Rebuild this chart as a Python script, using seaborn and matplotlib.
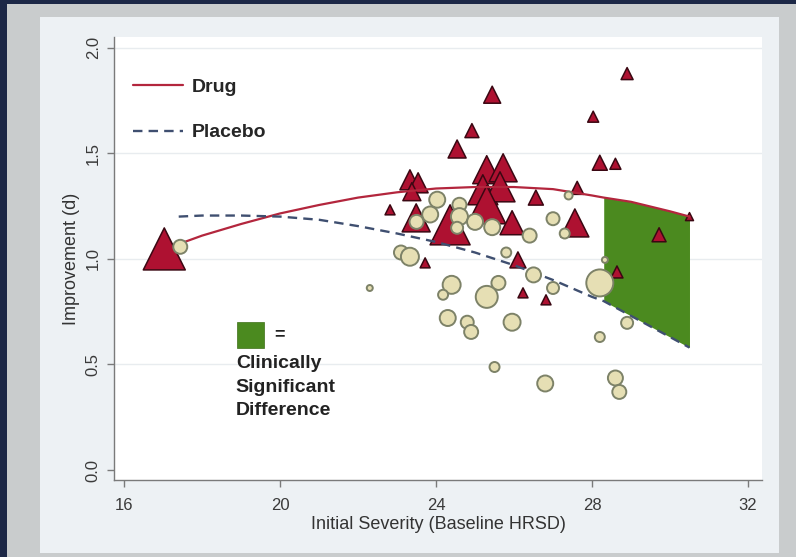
import matplotlib.pyplot as plt
import matplotlib.patches as mpatches
import pandas as pd
import seaborn as sns

# quadratic fit curves
fit_x = [17.4, 18, 19, 20, 21, 22, 23, 24, 25, 26, 27, 28, 28.3, 29, 30, 30.5]
drug_fit = [1.07, 1.11, 1.165, 1.215, 1.255, 1.29, 1.315, 1.333, 1.34, 1.34, 1.33, 1.30, 1.29, 1.27, 1.225, 1.20]
placebo_fit = [1.20, 1.205, 1.205, 1.20, 1.185, 1.155, 1.12, 1.08, 1.03, 0.97, 0.90, 0.82, 0.80, 0.73, 0.63, 0.58]
clin_sig_from = 28.3

# drug arms (triangles): baseline HRSD, improvement d, study weight
drug_x = [17.03, 28.9, 25.44, 28.03, 24.92, 24.54, 28.2, 28.6, 25.3, 25.72,
          25.2, 25.64, 25.3, 23.33, 23.54, 23.38, 27.62, 26.56, 22.82, 30.5,
          29.72, 27.56, 24.36, 25.95, 23.49, 23.72, 26.1, 28.64, 26.23, 26.82]
drug_y = [1.047, 1.877, 1.777, 1.673, 1.607, 1.52, 1.455, 1.45, 1.422, 1.431,
          1.327, 1.341, 1.256, 1.374, 1.36, 1.318, 1.336, 1.29, 1.232, 1.20,
          1.114, 1.17, 1.161, 1.171, 1.194, 0.981, 0.995, 0.938, 0.839, 0.806]
drug_w = [1764, 144, 289, 121, 196, 324, 225, 121, 784, 784,
          900, 900, 1444, 400, 400, 324, 169, 225, 100, 64,
          196, 784, 1600, 576, 784, 100, 256, 144, 100, 100]

# placebo arms (circles)
placebo_x = [17.44, 22.3, 24.03, 24.6, 23.85, 24.6, 23.5, 25.0, 25.44, 24.54,
             26.4, 27.0, 27.4, 27.3, 23.1, 23.33, 25.8, 26.5, 27.0, 28.2,
             28.33, 24.4, 24.18, 25.6, 25.3, 24.3, 24.8, 24.9, 25.95, 25.5,
             26.8, 28.9, 28.2, 28.6, 28.7]
placebo_y = [1.057, 0.862, 1.28, 1.256, 1.21, 1.20, 1.175, 1.175, 1.15, 1.147,
             1.11, 1.19, 1.30, 1.12, 1.03, 1.01, 1.03, 0.924, 0.862, 0.886,
             0.995, 0.877, 0.83, 0.886, 0.82, 0.72, 0.70, 0.654, 0.70, 0.488,
             0.41, 0.697, 0.63, 0.436, 0.37]
placebo_w = [196, 36, 256, 196, 256, 289, 196, 256, 256, 144,
             196, 169, 64, 100, 196, 324, 100, 225, 144, 729,
             36, 324, 100, 196, 484, 256, 169, 196, 289, 100,
             256, 144, 100, 225, 196]

drug = pd.DataFrame({"severity": drug_x, "improvement": drug_y, "weight": drug_w})
placebo = pd.DataFrame({"severity": placebo_x, "improvement": placebo_y, "weight": placebo_w})
fits = pd.DataFrame({"severity": fit_x, "drug": drug_fit, "placebo": placebo_fit})

sns.set_theme(style="white")
plt.rcParams["font.family"] = ["Liberation Sans", "DejaVu Sans"]

fig = plt.figure(figsize=(7.96, 5.57), dpi=100, facecolor="#1c2746")
fig.patches.append(mpatches.Rectangle((0.0088, 0), 0.9912, 0.9928, transform=fig.transFigure,
                                      facecolor="#c9cccd", edgecolor="none", zorder=-10))
fig.patches.append(mpatches.Rectangle((0.0503, 0.0072), 0.9284, 0.9623, transform=fig.transFigure,
                                      facecolor="#edf1f4", edgecolor="none", zorder=-9))
ax = fig.add_axes([0.1432, 0.1382, 0.8141, 0.7953])
ax.set_facecolor("white")

size_kw = dict(size="weight", sizes=(0, 2000 / 1.929), size_norm=(0, 2000), legend=False)

# clinically significant region
sig = fits[fits["severity"] >= clin_sig_from]
ax.fill_between(sig["severity"], sig["placebo"], sig["drug"], color="#4b8a1f", lw=0, zorder=2)

sns.scatterplot(data=drug, x="severity", y="improvement", marker="^", color="#ae1131",
                edgecolor="#3a0712", linewidth=1.1, zorder=3, ax=ax, **size_kw)
sns.lineplot(data=fits, x="severity", y="drug", color="#b3263d", lw=1.6, label="Drug",
             zorder=4, ax=ax)
sns.lineplot(data=fits, x="severity", y="placebo", color="#3f4f70", lw=1.7, label="Placebo",
             linestyle=(0, (4, 2.6)), zorder=4, ax=ax)
sns.scatterplot(data=placebo, x="severity", y="improvement", marker="o", color="#e6dfb4",
                edgecolor="#7d8268", linewidth=1.4, zorder=5, ax=ax, **size_kw)

ax.set_xlim(15.74, 32.36)
ax.set_ylim(-0.047, 2.05)
ax.set_xticks([16, 20, 24, 28, 32])
ax.set_yticks([0.0, 0.5, 1.0, 1.5, 2.0])
ax.set_yticklabels(["0.0", "0.5", "1.0", "1.5", "2.0"])
for y in [0.5, 1.0, 1.5, 2.0]:
    ax.axhline(y, color="#e8ecef", lw=1, zorder=1)

for side in ["top", "right"]:
    ax.spines[side].set_visible(False)
for side in ["left", "bottom"]:
    ax.spines[side].set_color("#7a7a7a")
    ax.spines[side].set_linewidth(1)
ax.tick_params(axis="both", direction="out", length=5, width=1, color="#7a7a7a",
               labelsize=12, labelcolor="#3a3a3a", pad=4.5, left=True, bottom=True)
ax.tick_params(axis="x", pad=8)
for t in ax.get_yticklabels():
    t.set_rotation(90)
    t.set_va("center")

ax.set_xlabel("Initial Severity (Baseline HRSD)", fontsize=13, color="#333333", labelpad=2)
ax.set_ylabel("Improvement (d)", fontsize=13, color="#333333", labelpad=4)

leg = ax.legend(loc="upper left", bbox_to_anchor=(0.0144, 0.929), frameon=False,
                prop={"weight": "bold", "size": 14}, handlelength=2.57,
                handletextpad=0.46, labelspacing=1.44, borderpad=0)

ax.add_patch(mpatches.Rectangle((0.190, 0.298), 0.0417, 0.0587, transform=ax.transAxes,
                                facecolor="#4b8a1f", edgecolor="#3d6f18", lw=0.5, zorder=6))
ax.text(0.248, 0.328, "=", transform=ax.transAxes, fontsize=13, fontweight="bold",
        color="#222222", va="center", ha="left")
ax.text(0.188, 0.282, "Clinically\nSignificant\nDifference", transform=ax.transAxes,
        fontsize=14, fontweight="bold", color="#222222", va="top", ha="left",
        linespacing=1.5)

fig.savefig("out.png", dpi=100, facecolor=fig.get_facecolor())
